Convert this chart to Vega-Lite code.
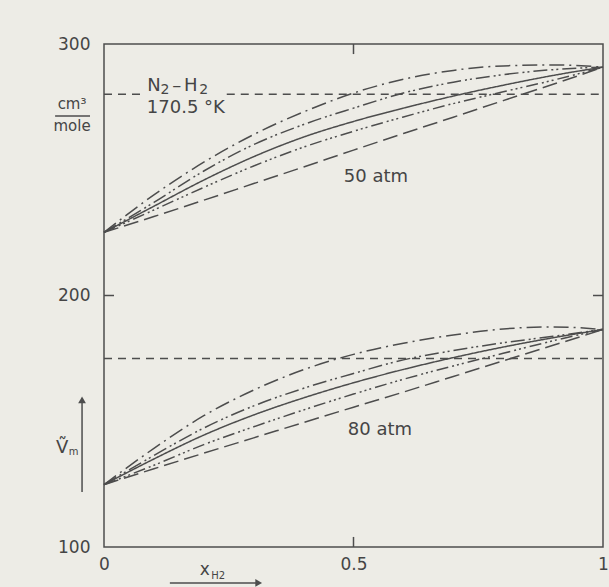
{
  "$schema": "https://vega.github.io/schema/vega-lite/v6.json",
  "width": 499,
  "height": 503,
  "autosize": {"type": "none"},
  "padding": {"left": 104, "top": 44, "right": 6, "bottom": 40},
  "background": "#edece6",
  "config": {
    "view": {"stroke": "#4d4d4d", "strokeWidth": 1.5},
    "font": "DejaVu Sans",
    "axis": {"grid": false, "domain": false, "ticks": false, "tickSize": 0, "labelFlush": false, "labelColor": "#454545", "labelFontSize": 17, "labelFont": "DejaVu Sans"}
  },
  "datasets": {
    "curves": [
      {"s": "50c1", "c": "c1", "x": 0, "v": 225.1}, {"s": "50c1", "c": "c1", "x": 0.1, "v": 240}, {"s": "50c1", "c": "c1", "x": 0.2, "v": 253}, {"s": "50c1", "c": "c1", "x": 0.3, "v": 264}, {"s": "50c1", "c": "c1", "x": 0.4, "v": 273}, {"s": "50c1", "c": "c1", "x": 0.5, "v": 280.5}, {"s": "50c1", "c": "c1", "x": 0.6, "v": 286}, {"s": "50c1", "c": "c1", "x": 0.7, "v": 289.5}, {"s": "50c1", "c": "c1", "x": 0.8, "v": 291.3}, {"s": "50c1", "c": "c1", "x": 0.9, "v": 291.7}, {"s": "50c1", "c": "c1", "x": 1, "v": 290.8},
      {"s": "50c2", "c": "c2", "x": 0, "v": 225.1}, {"s": "50c2", "c": "c2", "x": 0.1, "v": 237}, {"s": "50c2", "c": "c2", "x": 0.2, "v": 249.5}, {"s": "50c2", "c": "c2", "x": 0.3, "v": 260}, {"s": "50c2", "c": "c2", "x": 0.4, "v": 268}, {"s": "50c2", "c": "c2", "x": 0.5, "v": 274.5}, {"s": "50c2", "c": "c2", "x": 0.6, "v": 280.5}, {"s": "50c2", "c": "c2", "x": 0.7, "v": 284.8}, {"s": "50c2", "c": "c2", "x": 0.8, "v": 287.8}, {"s": "50c2", "c": "c2", "x": 0.9, "v": 289.8}, {"s": "50c2", "c": "c2", "x": 1, "v": 290.8},
      {"s": "50c3", "c": "c3", "x": 0, "v": 225.1}, {"s": "50c3", "c": "c3", "x": 0.1, "v": 235.5}, {"s": "50c3", "c": "c3", "x": 0.2, "v": 245.9}, {"s": "50c3", "c": "c3", "x": 0.3, "v": 255.2}, {"s": "50c3", "c": "c3", "x": 0.4, "v": 263}, {"s": "50c3", "c": "c3", "x": 0.5, "v": 269.2}, {"s": "50c3", "c": "c3", "x": 0.6, "v": 274.5}, {"s": "50c3", "c": "c3", "x": 0.7, "v": 279.3}, {"s": "50c3", "c": "c3", "x": 0.8, "v": 283.6}, {"s": "50c3", "c": "c3", "x": 0.9, "v": 287.5}, {"s": "50c3", "c": "c3", "x": 1, "v": 290.8},
      {"s": "50c4", "c": "c4", "x": 0, "v": 225.1}, {"s": "50c4", "c": "c4", "x": 0.1, "v": 234}, {"s": "50c4", "c": "c4", "x": 0.2, "v": 243}, {"s": "50c4", "c": "c4", "x": 0.3, "v": 251.5}, {"s": "50c4", "c": "c4", "x": 0.4, "v": 259}, {"s": "50c4", "c": "c4", "x": 0.5, "v": 265.3}, {"s": "50c4", "c": "c4", "x": 0.6, "v": 271}, {"s": "50c4", "c": "c4", "x": 0.7, "v": 276.3}, {"s": "50c4", "c": "c4", "x": 0.8, "v": 281}, {"s": "50c4", "c": "c4", "x": 0.9, "v": 285.6}, {"s": "50c4", "c": "c4", "x": 1, "v": 290.8},
      {"s": "50c5", "c": "c5", "x": 0, "v": 225.1}, {"s": "50c5", "c": "c5", "x": 0.1, "v": 231.4}, {"s": "50c5", "c": "c5", "x": 0.2, "v": 237.9}, {"s": "50c5", "c": "c5", "x": 0.3, "v": 244.5}, {"s": "50c5", "c": "c5", "x": 0.4, "v": 251.1}, {"s": "50c5", "c": "c5", "x": 0.5, "v": 257.8}, {"s": "50c5", "c": "c5", "x": 0.6, "v": 264.4}, {"s": "50c5", "c": "c5", "x": 0.7, "v": 270.9}, {"s": "50c5", "c": "c5", "x": 0.8, "v": 277.5}, {"s": "50c5", "c": "c5", "x": 0.9, "v": 284}, {"s": "50c5", "c": "c5", "x": 1, "v": 290.8},
      {"s": "50h1", "c": "h", "x": 0, "v": 280}, {"s": "50h1", "c": "h", "x": 0.076, "v": 280},
      {"s": "50h2", "c": "h", "x": 0.246, "v": 280}, {"s": "50h2", "c": "h", "x": 1, "v": 280},
      {"s": "80c1", "c": "c1", "x": 0, "v": 124.8}, {"s": "80c1", "c": "c1", "x": 0.1, "v": 139.2}, {"s": "80c1", "c": "c1", "x": 0.2, "v": 152.2}, {"s": "80c1", "c": "c1", "x": 0.3, "v": 162.4}, {"s": "80c1", "c": "c1", "x": 0.4, "v": 170.5}, {"s": "80c1", "c": "c1", "x": 0.5, "v": 176.6}, {"s": "80c1", "c": "c1", "x": 0.6, "v": 181}, {"s": "80c1", "c": "c1", "x": 0.7, "v": 184.3}, {"s": "80c1", "c": "c1", "x": 0.8, "v": 186.7}, {"s": "80c1", "c": "c1", "x": 0.9, "v": 187.5}, {"s": "80c1", "c": "c1", "x": 1, "v": 186.5},
      {"s": "80c2", "c": "c2", "x": 0, "v": 124.8}, {"s": "80c2", "c": "c2", "x": 0.1, "v": 136.4}, {"s": "80c2", "c": "c2", "x": 0.2, "v": 147.3}, {"s": "80c2", "c": "c2", "x": 0.3, "v": 156.1}, {"s": "80c2", "c": "c2", "x": 0.4, "v": 163.1}, {"s": "80c2", "c": "c2", "x": 0.5, "v": 169}, {"s": "80c2", "c": "c2", "x": 0.6, "v": 174.4}, {"s": "80c2", "c": "c2", "x": 0.7, "v": 178.1}, {"s": "80c2", "c": "c2", "x": 0.8, "v": 181.2}, {"s": "80c2", "c": "c2", "x": 0.9, "v": 183.8}, {"s": "80c2", "c": "c2", "x": 1, "v": 186.5},
      {"s": "80c3", "c": "c3", "x": 0, "v": 124.8}, {"s": "80c3", "c": "c3", "x": 0.1, "v": 135}, {"s": "80c3", "c": "c3", "x": 0.2, "v": 144.5}, {"s": "80c3", "c": "c3", "x": 0.3, "v": 152.5}, {"s": "80c3", "c": "c3", "x": 0.4, "v": 159.3}, {"s": "80c3", "c": "c3", "x": 0.5, "v": 165.3}, {"s": "80c3", "c": "c3", "x": 0.6, "v": 170.6}, {"s": "80c3", "c": "c3", "x": 0.7, "v": 175.3}, {"s": "80c3", "c": "c3", "x": 0.8, "v": 179.5}, {"s": "80c3", "c": "c3", "x": 0.9, "v": 183.2}, {"s": "80c3", "c": "c3", "x": 1, "v": 186.5},
      {"s": "80c4", "c": "c4", "x": 0, "v": 124.8}, {"s": "80c4", "c": "c4", "x": 0.1, "v": 132.5}, {"s": "80c4", "c": "c4", "x": 0.2, "v": 140.7}, {"s": "80c4", "c": "c4", "x": 0.3, "v": 147.8}, {"s": "80c4", "c": "c4", "x": 0.4, "v": 154.5}, {"s": "80c4", "c": "c4", "x": 0.5, "v": 160.8}, {"s": "80c4", "c": "c4", "x": 0.6, "v": 166.7}, {"s": "80c4", "c": "c4", "x": 0.7, "v": 172}, {"s": "80c4", "c": "c4", "x": 0.8, "v": 177}, {"s": "80c4", "c": "c4", "x": 0.9, "v": 182}, {"s": "80c4", "c": "c4", "x": 1, "v": 186.5},
      {"s": "80c5", "c": "c5", "x": 0, "v": 124.8}, {"s": "80c5", "c": "c5", "x": 0.1, "v": 131.1}, {"s": "80c5", "c": "c5", "x": 0.2, "v": 137.3}, {"s": "80c5", "c": "c5", "x": 0.3, "v": 143.4}, {"s": "80c5", "c": "c5", "x": 0.4, "v": 149.5}, {"s": "80c5", "c": "c5", "x": 0.5, "v": 155.6}, {"s": "80c5", "c": "c5", "x": 0.6, "v": 161.6}, {"s": "80c5", "c": "c5", "x": 0.7, "v": 167.8}, {"s": "80c5", "c": "c5", "x": 0.8, "v": 174}, {"s": "80c5", "c": "c5", "x": 0.9, "v": 180.2}, {"s": "80c5", "c": "c5", "x": 1, "v": 186.5},
      {"s": "80h", "c": "h", "x": 0, "v": 175}, {"s": "80h", "c": "h", "x": 1, "v": 175}
    ],
    "labels": [
      {"t": "N", "x": 0.1, "v": 283.4, "fs": 18},
      {"t": "2", "x": 0.122, "v": 281.6, "fs": 14},
      {"t": "–", "x": 0.146, "v": 283.4, "fs": 18},
      {"t": "H", "x": 0.174, "v": 283.4, "fs": 18},
      {"t": "2", "x": 0.2, "v": 281.6, "fs": 14},
      {"t": "170.5 °K", "x": 0.164, "v": 274.4, "fs": 18},
      {"t": "50 atm", "x": 0.545, "v": 247.1, "fs": 18},
      {"t": "80 atm", "x": 0.553, "v": 146.5, "fs": 18},
      {"t": "cm³", "x": -0.064, "v": 276.1, "fs": 15},
      {"t": "mole", "x": -0.064, "v": 267.3, "fs": 15},
      {"t": "Ṽ", "x": -0.084, "v": 139.4, "fs": 18},
      {"t": "m", "x": -0.061, "v": 137.6, "fs": 10},
      {"t": "x", "x": 0.202, "v": 90.9, "fs": 17},
      {"t": "H2", "x": 0.229, "v": 88.3, "fs": 10}
    ],
    "segs": [
      {"x": -0.098, "x2": -0.028, "v": 271.4, "v2": 271.4},
      {"x": -0.044, "x2": -0.044, "v": 121.9, "v2": 159},
      {"x": 0.132, "x2": 0.31, "v": 85.7, "v2": 85.7},
      {"x": 0, "x2": 0.02, "v": 200, "v2": 200},
      {"x": 0.98, "x2": 1, "v": 200, "v2": 200},
      {"x": 0.5, "x2": 0.5, "v": 100, "v2": 104},
      {"x": 0.5, "x2": 0.5, "v": 296, "v2": 300}
    ],
    "heads": [
      {"x": -0.044, "v": 158.5, "sh": "triangle-up"},
      {"x": 0.31, "v": 85.7, "sh": "triangle-right"}
    ]
  },
  "layer": [
    {
      "data": {"name": "curves"},
      "mark": {"type": "line", "interpolate": "monotone", "color": "#4d4d4d", "strokeWidth": 1.5, "clip": false},
      "encoding": {
        "x": {"field": "x", "type": "quantitative", "scale": {"domain": [0, 1], "nice": false},
          "axis": {"values": [0, 0.5, 1], "labelExpr": "datum.value == 0 ? '0' : (datum.value == 1 ? '1' : '0.5')", "labelPadding": 9, "title": null}},
        "y": {"field": "v", "type": "quantitative", "scale": {"domain": [100, 300], "nice": false, "zero": false},
          "axis": {"values": [100, 200, 300], "labelPadding": 14, "title": null}},
        "detail": {"field": "s"},
        "strokeDash": {"field": "c", "type": "nominal", "legend": null,
          "scale": {"domain": ["c1", "c2", "c3", "c4", "c5", "h"],
            "range": [[15, 5, 2, 5], [14, 4, 2, 3, 2, 4], [1, 0], [12, 4, 2, 3, 2, 3, 2, 4], [15, 6], [8, 6]]}}
      }
    },
    {
      "data": {"name": "segs"},
      "mark": {"type": "rule", "color": "#4d4d4d", "strokeWidth": 1.5, "clip": false},
      "encoding": {
        "x": {"field": "x", "type": "quantitative"},
        "x2": {"field": "x2"},
        "y": {"field": "v", "type": "quantitative"},
        "y2": {"field": "v2"}
      }
    },
    {
      "data": {"name": "heads"},
      "mark": {"type": "point", "filled": true, "color": "#4d4d4d", "size": 60, "opacity": 1, "clip": false},
      "encoding": {
        "x": {"field": "x", "type": "quantitative"},
        "y": {"field": "v", "type": "quantitative"},
        "shape": {"field": "sh", "type": "nominal", "scale": null}
      }
    },
    {
      "data": {"name": "labels"},
      "mark": {"type": "text", "color": "#454545", "align": "center", "baseline": "middle", "font": "DejaVu Sans", "clip": false},
      "encoding": {
        "x": {"field": "x", "type": "quantitative"},
        "y": {"field": "v", "type": "quantitative"},
        "text": {"field": "t"},
        "size": {"field": "fs", "type": "quantitative", "scale": null}
      }
    }
  ]
}
